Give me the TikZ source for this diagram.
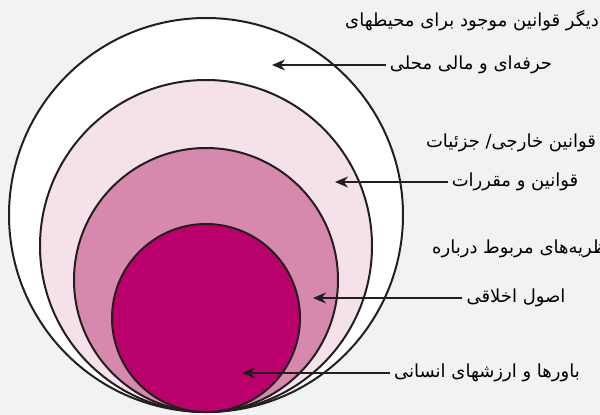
\documentclass[tikz,border=0pt]{standalone}
\usepackage{fontspec}
\usepackage{xcolor}
\usepackage{tikz}
\usetikzlibrary{positioning,arrows.meta}
\TeXXeTstate=1
\newfontfamily\farsifont[Script=Arabic]{DejaVu Sans}

\definecolor{bggray}{HTML}{F1F2F4}
\definecolor{inkline}{HTML}{231F20}
\definecolor{pinkA}{HTML}{F4E1EA}
\definecolor{pinkB}{HTML}{D788AD}
\definecolor{pinkC}{HTML}{BA006A}

\begin{document}
\begin{tikzpicture}[x=1pt, y=-1pt,
  ring/.style={draw=inkline, line width=2pt},
  lbl/.style={font=\farsifont\fontsize{18}{21}\selectfont, inner sep=4pt},
  pointer/.style={-{Stealth[length=13pt, width=11pt]}, draw=inkline, line width=2pt}
]

% Background
\fill[bggray] (0,0) rectangle (600,415);
\useasboundingbox (0,0) rectangle (600,415);

% Nested circles
\draw[ring, fill=white] (206,215) circle[radius=197pt];
\draw[ring, fill=pinkA] (206,246) circle[radius=166pt];
\draw[ring, fill=pinkB] (206,280) circle[radius=132pt];
\draw[ring, fill=pinkC] (206,318) circle[radius=94pt];

% Arrow tips
\coordinate (envTip) at (272,65);
\coordinate (lawTip) at (335,182);
\coordinate (ethTip) at (313,298);
\coordinate (valTip) at (242,373);

% Labels
\node[lbl] (envA) at (472,21) {\beginR دیگر قوانین موجود برای محیطهای\endR};
\node[lbl] (envB) at (471,65) {\beginR حرفه‌ای و مالی محلی\endR};

\node[lbl] (lawA) at (511,143) {\beginR قوانین خارجی/ جزئیات\endR};
\node[lbl] (lawB) at (515,182) {\beginR قوانین و مقررات\endR};

\node[lbl, anchor=west] (ethA) at (428,249) {\beginR نظریه‌های مربوط درباره\endR};
\node[lbl] (ethB) at (516,298) {\beginR اصول اخلاقی\endR};

\node[lbl] (valA) at (487,373) {\beginR باورها و ارزشهای انسانی\endR};

% Pointers
\draw[pointer] (envB.west) -- (envTip);
\draw[pointer] (lawB.west) -- (lawTip);
\draw[pointer] (ethB.west) -- (ethTip);
\draw[pointer] (valA.west) -- (valTip);

\end{tikzpicture}
\end{document}
